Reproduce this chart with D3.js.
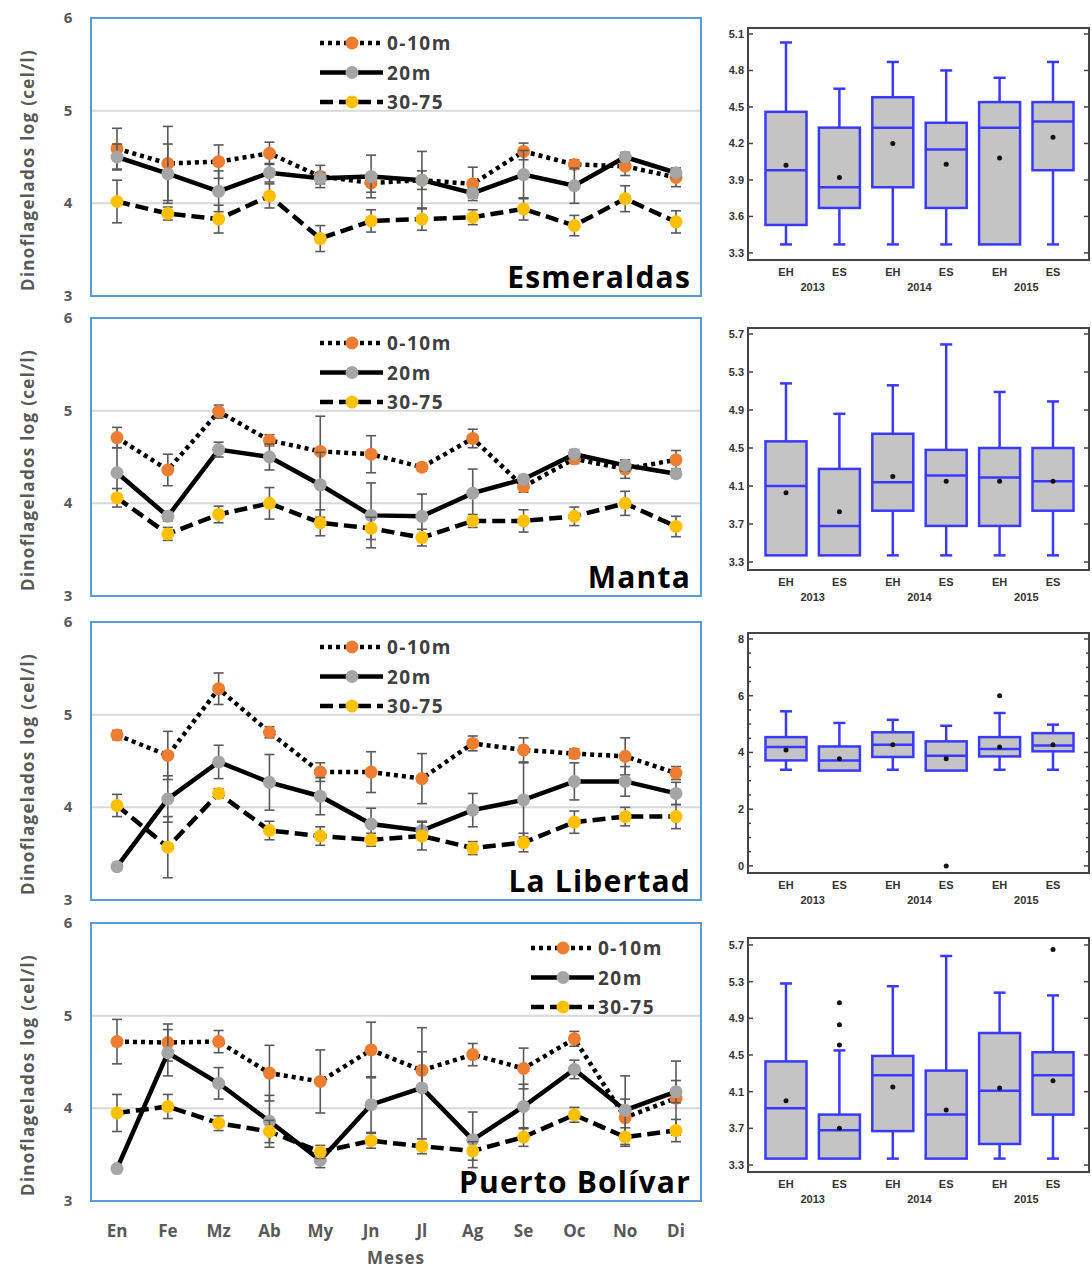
<!DOCTYPE html>
<html>
<head>
<meta charset="utf-8">
<script src="https://cdn.jsdelivr.net/npm/d3@7"></script>
<style>
body { margin: 0; background: #fff; }
</style>
</head>
<body>
<svg id="fig" width="1092" height="1268"></svg>
<script>
// months and depth layers
const months = ["En", "Fe", "Mz", "Ab", "My", "Jn", "Jl", "Ag", "Se", "Oc", "No", "Di"];
const layers = ["0-10m", "20m", "30-75"];
const stations = ["Esmeraldas", "Manta", "La Libertad", "Puerto Bolívar"];

// monthly means (log cel/l), one row per layer
const esmMean = [
  [4.59, 4.43, 4.45, 4.54, 4.29, 4.22, 4.25, 4.21, 4.56, 4.42, 4.40, 4.28],
  [4.50, 4.32, 4.13, 4.33, 4.27, 4.29, 4.25, 4.11, 4.31, 4.19, 4.50, 4.33],
  [4.02, 3.89, 3.83, 4.08, 3.62, 3.81, 3.83, 3.85, 3.94, 3.76, 4.05, 3.80]
];
const esmErr = [
  [0.22, 0.40, 0.18, 0.12, 0.12, 0.10, 0.10, 0.18, 0.09, 0.05, 0.10, 0.10],
  [0.14, 0.32, 0.22, 0.10, 0.06, 0.23, 0.31, 0.05, 0.26, 0.19, 0.05, 0.05],
  [0.23, 0.07, 0.15, 0.13, 0.14, 0.12, 0.12, 0.08, 0.12, 0.11, 0.14, 0.12]
];
const mantaMean = [
  [4.71, 4.36, 4.99, 4.68, 4.56, 4.53, 4.39, 4.70, 4.18, 4.48, 4.37, 4.47],
  [4.33, 3.86, 4.58, 4.50, 4.20, 3.87, 3.86, 4.11, 4.26, 4.53, 4.41, 4.32],
  [4.06, 3.67, 3.88, 4.00, 3.79, 3.73, 3.63, 3.81, 3.81, 3.86, 4.00, 3.75]
];
const mantaErr = [
  [0.11, 0.17, 0.07, 0.06, 0.38, 0.20, 0.04, 0.10, 0.06, 0.05, 0.10, 0.10],
  [0.27, 0.05, 0.08, 0.14, 0.35, 0.35, 0.24, 0.26, 0.04, 0.05, 0.06, 0.04],
  [0.10, 0.07, 0.09, 0.17, 0.14, 0.12, 0.09, 0.07, 0.12, 0.10, 0.13, 0.11]
];
const libMean = [
  [4.78, 4.56, 5.28, 4.81, 4.38, 4.38, 4.31, 4.69, 4.62, 4.58, 4.55, 4.37],
  [3.36, 4.09, 4.49, 4.27, 4.12, 3.82, 3.75, 3.97, 4.08, 4.28, 4.28, 4.15],
  [4.02, 3.57, 4.15, 3.75, 3.69, 3.65, 3.69, 3.56, 3.62, 3.84, 3.90, 3.90]
];
const libErr = [
  [0.05, 0.26, 0.17, 0.06, 0.10, 0.22, 0.27, 0.08, 0.13, 0.05, 0.20, 0.07],
  [0.00, 0.25, 0.18, 0.30, 0.20, 0.17, 0.10, 0.18, 0.40, 0.20, 0.16, 0.12],
  [0.12, 0.33, 0.05, 0.10, 0.10, 0.07, 0.15, 0.07, 0.10, 0.12, 0.10, 0.13]
];
const pbMean = [
  [4.72, 4.71, 4.72, 4.38, 4.29, 4.63, 4.41, 4.58, 4.43, 4.75, 3.90, 4.11],
  [3.35, 4.60, 4.27, 3.86, 3.44, 4.04, 4.22, 3.66, 4.02, 4.42, 3.98, 4.18],
  [3.95, 4.02, 3.84, 3.75, 3.53, 3.65, 3.59, 3.54, 3.69, 3.93, 3.69, 3.76]
];
const pbErr = [
  [0.24, 0.20, 0.12, 0.30, 0.34, 0.30, 0.20, 0.12, 0.22, 0.08, 0.20, 0.40],
  [0.00, 0.25, 0.17, 0.28, 0.08, 0.30, 0.65, 0.30, 0.24, 0.10, 0.37, 0.12],
  [0.20, 0.13, 0.08, 0.12, 0.07, 0.08, 0.08, 0.10, 0.10, 0.08, 0.10, 0.12]
];

// box plots: [min, q1, median, q3, max, mean]
const boxCats = ["EH", "ES", "EH", "ES", "EH", "ES"];
const boxYears = ["2013", "2014", "2015"];
const esmBox = [
  [3.37, 3.53, 3.98, 4.46, 5.03, 4.02],
  [3.37, 3.67, 3.84, 4.33, 4.65, 3.92],
  [3.37, 3.84, 4.33, 4.58, 4.87, 4.20],
  [3.37, 3.67, 4.15, 4.37, 4.80, 4.03],
  [3.37, 3.37, 4.33, 4.54, 4.74, 4.08],
  [3.37, 3.98, 4.38, 4.54, 4.87, 4.25]
];
const mantaBox = [
  [3.37, 3.37, 4.10, 4.57, 5.18, 4.03],
  [3.37, 3.37, 3.68, 4.28, 4.86, 3.83],
  [3.37, 3.84, 4.14, 4.65, 5.16, 4.20],
  [3.37, 3.68, 4.21, 4.48, 5.59, 4.15],
  [3.37, 3.68, 4.19, 4.50, 5.09, 4.15],
  [3.37, 3.84, 4.15, 4.50, 4.99, 4.15]
];
const libBox = [
  [3.39, 3.72, 4.19, 4.54, 5.45, 4.09],
  [3.36, 3.36, 3.72, 4.21, 5.04, 3.78],
  [3.39, 3.84, 4.27, 4.71, 5.15, 4.27],
  [3.36, 3.36, 3.88, 4.39, 4.94, 3.78],
  [3.39, 3.86, 4.12, 4.54, 5.39, 4.19],
  [3.39, 4.04, 4.24, 4.68, 4.98, 4.27]
];
const pbBox = [
  [3.37, 3.37, 3.92, 4.43, 5.28, 4.00],
  [3.37, 3.37, 3.68, 3.85, 4.55, 3.70],
  [3.37, 3.67, 4.28, 4.49, 5.25, 4.15],
  [3.37, 3.37, 3.85, 4.33, 5.58, 3.90],
  [3.37, 3.53, 4.11, 4.74, 5.18, 4.14],
  [3.37, 3.85, 4.28, 4.53, 5.15, 4.22]
];
const esmOut = [[], [], [], [], [], []];
const mantaOut = [[], [], [], [], [], []];
const libOut = [[], [], [], [0], [6], []];
const pbOut = [[], [5.07, 4.83, 4.61], [], [], [], [5.65]];

const esmTicks = [3.3, 3.6, 3.9, 4.2, 4.5, 4.8, 5.1];
const mantaTicks = [3.3, 3.7, 4.1, 4.5, 4.9, 5.3, 5.7];
const libTicks = [0, 2, 4, 6, 8];
const pbTicks = [3.3, 3.7, 4.1, 4.5, 4.9, 5.3, 5.7];
const lineTicks = [3, 4, 5, 6];

const colors = ["#ED7D31", "#A5A5A5", "#FFC000"];
const dashes = ["4,4", null, "13,6"];

const svg = d3.select("#fig");

const panels = [
  {name: stations[0], mean: esmMean, err: esmErr, box: esmBox, out: esmOut, ticks: esmTicks, dom: [3.242, 5.149], fmt: ".1f", top: 18, bTop: 28, bBot: 260, legX: 320},
  {name: stations[1], mean: mantaMean, err: mantaErr, box: mantaBox, out: mantaOut, ticks: mantaTicks, dom: [3.216, 5.763], fmt: ".1f", top: 318, bTop: 328, bBot: 570, legX: 320},
  {name: stations[2], mean: libMean, err: libErr, box: libBox, out: libOut, ticks: libTicks, dom: [-0.25, 8.21], fmt: "d", top: 622, bTop: 633, bBot: 873, legX: 320, minor: 0.5},
  {name: stations[3], mean: pbMean, err: pbErr, box: pbBox, out: pbOut, ticks: pbTicks, dom: [3.224, 5.776], fmt: ".1f", top: 923, bTop: 938, bBot: 1172, legX: 531}
];

const lineH = 278;
const x = d3.scalePoint().domain(months).range([117, 676]);
const bx = d3.scalePoint().domain(d3.range(6)).range([786, 1053]);

panels.forEach((p, pi) => {
  const g = svg.append("g");
  const y = d3.scaleLinear().domain([3, 6]).range([p.top + lineH, p.top]);

  // grid lines at 4 and 5
  g.selectAll(".grid").data([4, 5]).enter().append("line")
    .attr("x1", 91).attr("x2", 701)
    .attr("y1", d => y(d)).attr("y2", d => y(d))
    .attr("stroke", "#d9d9d9").attr("stroke-width", 2);

  // frame
  g.append("rect")
    .attr("x", 91).attr("y", p.top).attr("width", 610).attr("height", lineH)
    .attr("fill", "none").attr("stroke", "#5B9BD5").attr("stroke-width", 2);

  // y tick labels
  g.selectAll(".yt").data(lineTicks).enter().append("text")
    .attr("x", 68).attr("y", d => y(d) + 5)
    .attr("text-anchor", "middle")
    .attr("font-family", "Open Sans, sans-serif").attr("font-weight", "bold")
    .attr("font-size", 15).attr("fill", "#595959")
    .text(d => d);

  // y axis title
  g.append("text")
    .attr("transform", `translate(34,${p.top + 152}) rotate(-90)`)
    .attr("text-anchor", "middle")
    .attr("font-family", "Open Sans, sans-serif").attr("font-weight", "bold")
    .attr("font-size", 17).attr("letter-spacing", 1.3).attr("fill", "#595959")
    .text("Dinoflagelados  log (cel/l)");

  // series
  layers.forEach((lab, si) => {
    const vals = p.mean[si];
    const errs = p.err[si];
    const line = d3.line().x((d, i) => x(months[i])).y(d => y(d));
    g.append("path")
      .attr("d", line(vals))
      .attr("fill", "none").attr("stroke", "#000")
      .attr("stroke-width", 4.5)
      .attr("stroke-dasharray", dashes[si]);

    const eb = g.append("g").attr("stroke", "#595959").attr("stroke-width", 1.6);
    vals.forEach((v, i) => {
      if (errs[i] <= 0) return;
      const cx = x(months[i]);
      eb.append("line").attr("x1", cx).attr("x2", cx).attr("y1", y(v + errs[i])).attr("y2", y(v - errs[i]));
      eb.append("line").attr("x1", cx - 5).attr("x2", cx + 5).attr("y1", y(v + errs[i])).attr("y2", y(v + errs[i]));
      eb.append("line").attr("x1", cx - 5).attr("x2", cx + 5).attr("y1", y(v - errs[i])).attr("y2", y(v - errs[i]));
    });

    g.selectAll(".m" + si).data(vals).enter().append("circle")
      .attr("cx", (d, i) => x(months[i])).attr("cy", d => y(d))
      .attr("r", 6.5).attr("fill", colors[si]);
  });

  // legend
  layers.forEach((lab, si) => {
    const ly = p.top + 25 + si * 29.5;
    g.append("line")
      .attr("x1", p.legX).attr("x2", p.legX + 63).attr("y1", ly).attr("y2", ly)
      .attr("stroke", "#000").attr("stroke-width", 4.5)
      .attr("stroke-dasharray", dashes[si]);
    g.append("circle").attr("cx", p.legX + 32).attr("cy", ly).attr("r", 6.5).attr("fill", colors[si]);
    g.append("text")
      .attr("x", p.legX + 67).attr("y", ly + 7)
      .attr("font-family", "Open Sans, sans-serif").attr("font-weight", "bold")
      .attr("font-size", 19).attr("letter-spacing", 1.5).attr("fill", "#404040")
      .text(lab);
  });

  // station name
  g.append("text")
    .attr("x", 691).attr("y", p.top + 270)
    .attr("text-anchor", "end")
    .attr("font-family", "Open Sans, sans-serif").attr("font-weight", "bold")
    .attr("font-size", 30).attr("letter-spacing", 1.2).attr("fill", "#000")
    .text(p.name);

  // ---- box plot ----
  const bg = svg.append("g");
  const by = d3.scaleLinear().domain(p.dom).range([p.bBot, p.bTop]);
  const fmt = d3.format(p.fmt);

  bg.append("rect")
    .attr("x", 748).attr("y", p.bTop).attr("width", 341).attr("height", p.bBot - p.bTop)
    .attr("fill", "none").attr("stroke", "#444").attr("stroke-width", 2);

  // ticks (left and right, inward)
  const tickSet = p.minor ? d3.range(p.ticks[0], p.ticks[p.ticks.length - 1] + 0.01, p.minor) : p.ticks;
  tickSet.forEach(t => {
    const major = p.ticks.some(v => Math.abs(v - t) < 1e-6);
    const len = major ? 5 : 3;
    bg.append("line").attr("x1", 748).attr("x2", 748 + len).attr("y1", by(t)).attr("y2", by(t)).attr("stroke", "#444").attr("stroke-width", 1.5);
    bg.append("line").attr("x1", 1089).attr("x2", 1089 - len).attr("y1", by(t)).attr("y2", by(t)).attr("stroke", "#444").attr("stroke-width", 1.5);
  });
  bg.selectAll(".bt").data(p.ticks).enter().append("text")
    .attr("x", 744).attr("y", d => by(d) + 4)
    .attr("text-anchor", "end")
    .attr("font-family", "Liberation Sans, Arial, sans-serif").attr("font-weight", "bold")
    .attr("font-size", 11).attr("fill", "#333")
    .text(d => fmt(d));

  const bw = 41;
  p.box.forEach((b, i) => {
    const cx = bx(i);
    const [lo, q1, med, q3, hi, mean] = b;
    const st = "#3a3aff";
    bg.append("line").attr("x1", cx).attr("x2", cx).attr("y1", by(hi)).attr("y2", by(q3)).attr("stroke", st).attr("stroke-width", 2.5);
    bg.append("line").attr("x1", cx).attr("x2", cx).attr("y1", by(q1)).attr("y2", by(lo)).attr("stroke", st).attr("stroke-width", 2.5);
    bg.append("line").attr("x1", cx - 6).attr("x2", cx + 6).attr("y1", by(hi)).attr("y2", by(hi)).attr("stroke", st).attr("stroke-width", 2.5);
    if (lo < q1) bg.append("line").attr("x1", cx - 6).attr("x2", cx + 6).attr("y1", by(lo)).attr("y2", by(lo)).attr("stroke", st).attr("stroke-width", 2.5);
    bg.append("rect")
      .attr("x", cx - bw / 2).attr("y", by(q3)).attr("width", bw).attr("height", by(q1) - by(q3))
      .attr("fill", "#c4c4c4").attr("stroke", st).attr("stroke-width", 2.5);
    bg.append("line").attr("x1", cx - bw / 2).attr("x2", cx + bw / 2).attr("y1", by(med)).attr("y2", by(med)).attr("stroke", st).attr("stroke-width", 2.5);
    bg.append("circle").attr("cx", cx).attr("cy", by(mean)).attr("r", 2.5).attr("fill", "#111");
    p.out[i].forEach(o => {
      bg.append("circle").attr("cx", cx).attr("cy", by(o)).attr("r", 2.5).attr("fill", "#111");
    });
    bg.append("text")
      .attr("x", cx).attr("y", p.bBot + 16)
      .attr("text-anchor", "middle")
      .attr("font-family", "Liberation Sans, Arial, sans-serif").attr("font-weight", "bold")
      .attr("font-size", 11).attr("fill", "#333")
      .text(boxCats[i]);
  });
  boxYears.forEach((yr, k) => {
    bg.append("text")
      .attr("x", (bx(2 * k) + bx(2 * k + 1)) / 2).attr("y", p.bBot + 31)
      .attr("text-anchor", "middle")
      .attr("font-family", "Liberation Sans, Arial, sans-serif").attr("font-weight", "bold")
      .attr("font-size", 11).attr("fill", "#333")
      .text(yr);
  });
});

// month axis labels under the last panel
svg.selectAll(".mon").data(months).enter().append("text")
  .attr("x", d => x(d)).attr("y", 1237)
  .attr("text-anchor", "middle")
  .attr("font-family", "Open Sans, sans-serif").attr("font-weight", "bold")
  .attr("font-size", 17).attr("fill", "#595959")
  .text(d => d);

svg.append("text")
  .attr("x", 396).attr("y", 1264)
  .attr("text-anchor", "middle")
  .attr("font-family", "Open Sans, sans-serif").attr("font-weight", "bold")
  .attr("font-size", 17).attr("letter-spacing", 1).attr("fill", "#595959")
  .text("Meses");
</script>
</body>
</html>
